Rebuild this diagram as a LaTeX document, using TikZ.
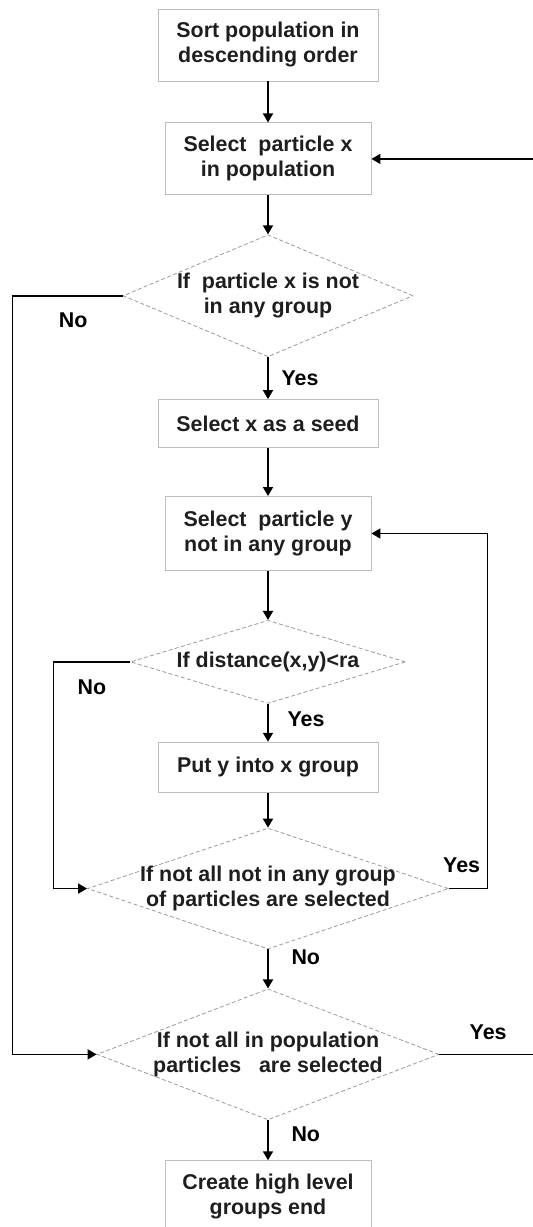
\documentclass[tikz,border=0pt]{standalone}
\usepackage{fontspec}
\setmainfont{Liberation Sans}
\usepackage{xcolor}
\usepackage{tikz}
\usetikzlibrary{arrows.meta,positioning,shapes.geometric}
\definecolor{FlowGrey}{HTML}{BDBDBD}
\definecolor{FlowDash}{HTML}{9A9A9A}
\definecolor{FlowText}{HTML}{1E1E1E}

\begin{document}
\begin{tikzpicture}[node distance=20pt,font=\fontsize{10.7}{12.5}\selectfont\bfseries,text=FlowText,box/.style={draw=FlowGrey,line width=0.45pt,align=center,minimum width=110pt,minimum height=36pt},narrowbox/.style={box,minimum width=103pt},decision/.style={diamond,draw=FlowDash,dash pattern=on 2pt off 1.2pt,line width=0.4pt,inner sep=0pt},arrow/.style={-{Triangle[length=4.5pt,width=5pt]},line width=0.85pt,black}]
  \useasboundingbox (-134pt,22.5pt) rectangle (132.5pt,-591pt);
  \clip (-134pt,22.5pt) rectangle (132.5pt,-591pt);
  \node[box] (sort) {Sort population in\\descending order};
  \node[narrowbox,below=20.5pt of sort] (pickx) {Select~ particle x\\in population};
  \node[decision,minimum width=145pt,minimum height=61pt,below=19.5pt of pickx,label={[align=center]center:{If~ particle x is not\\in any group}}] (freex) {};
  \node[box,minimum height=24pt,below=21pt of freex] (seed) {Select x as a seed};
  \node[narrowbox,minimum height=37pt,below=24pt of seed] (picky) {Select~ particle y\\not in any group};
  \node[decision,minimum width=137.5pt,minimum height=41.5pt,below=24.5pt of picky,label={center:{If distance(x,y)<ra}}] (near) {};
  \node[box,minimum height=25pt,below=19pt of near] (join) {Put y into x group};
  \node[decision,minimum width=180.5pt,minimum height=60.5pt,below=17.5pt of join,label={[align=center]center:{If not all not in any group\\of particles are selected}}] (ally) {};
  \node[decision,minimum width=171pt,minimum height=65.5pt,below=19.5pt of ally,label={[align=center]center:{If not all in population\\particles~~ are selected}}] (allx) {};
  \node[narrowbox,below=20pt of allx] (create) {Create high level\\groups end};
  \draw[arrow] (sort)--(pickx);
  \draw[arrow] (pickx)--(freex);
  \draw[arrow] (freex)--node[right=3pt]{Yes}(seed);
  \draw[arrow] (seed)--(picky);
  \draw[arrow] (picky)--(near);
  \draw[arrow] (near)--node[right=6pt,pos=0.4]{Yes}(join);
  \draw[arrow] (join)--(ally);
  \draw[arrow] (ally)--node[right=8pt,pos=0.2]{No}(allx);
  \draw[arrow] (allx)--node[right=8pt,pos=0.35]{No}(create);
  \draw[arrow] (freex.west)--node[below=5pt,pos=0.45]{No}++(-55pt,0)|-(allx.west);
  \draw[arrow] (near.west)--node[below=5pt,pos=0.5]{No}++(-38.25pt,0)|-(ally.west);
  \draw[arrow] (ally.east)--node[above=4pt,pos=0.33]{Yes}++(19.25pt,0)|-(picky.east);
  \draw[arrow] (allx.east)--node[above=3.5pt,pos=0.46]{Yes}++(53pt,0)|-(pickx.east);
\end{tikzpicture}
\end{document}
